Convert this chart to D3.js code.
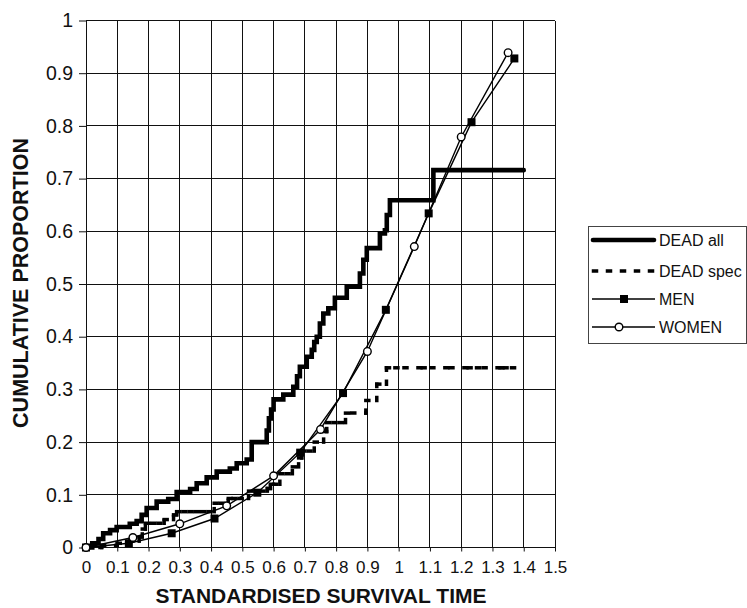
<!DOCTYPE html>
<html>
<head>
<meta charset="utf-8">
<script src="https://cdn.jsdelivr.net/npm/d3@7"></script>
<style>
  body { margin: 0; background: #fff; }
  svg { display: block; font-family: 'Liberation Sans', Arial, sans-serif; }
</style>
</head>
<body>
<svg width="747" height="608"></svg>
<script>
    // DEAD all: step curve, value changes to deadAllY[i] at deadAllX[i]
    var deadAllX = [0, 0.02, 0.04, 0.055, 0.077, 0.098, 0.14, 0.162, 0.178, 0.194, 0.226, 0.263, 0.29, 0.333, 0.354, 0.386,
      0.418, 0.46, 0.482, 0.514, 0.53, 0.578, 0.585, 0.592, 0.6, 0.631, 0.663, 0.675, 0.684, 0.706, 0.722,
      0.73, 0.738, 0.748, 0.759, 0.775, 0.796, 0.834, 0.876, 0.887, 0.898, 0.94, 0.956, 0.962, 0.972, 1.111, 1.40]
    var deadAllY = [0, 0.008, 0.016, 0.027, 0.033, 0.039, 0.045, 0.05, 0.062, 0.075, 0.087, 0.092, 0.105, 0.111, 0.122, 0.133,
      0.144, 0.15, 0.16, 0.167, 0.2, 0.222, 0.245, 0.262, 0.281, 0.29, 0.305, 0.325, 0.343, 0.362, 0.375,
      0.39, 0.4, 0.425, 0.444, 0.454, 0.474, 0.495, 0.52, 0.546, 0.568, 0.596, 0.602, 0.631, 0.659, 0.716, 0.716]

    // DEAD spec: same idea, repeated values are censored times (each gap is its own dashed piece)
    var deadSpecX = [0, 0.05, 0.1, 0.14, 0.17, 0.18, 0.19, 0.21, 0.23, 0.25, 0.28, 0.29, 0.31, 0.33, 0.35, 0.37, 0.39,
      0.41, 0.43, 0.455, 0.47, 0.49, 0.52, 0.54, 0.56, 0.58, 0.59, 0.6, 0.62, 0.64, 0.66, 0.68, 0.69, 0.71,
      0.73, 0.76, 0.77, 0.79, 0.81, 0.83, 0.85, 0.895, 0.93, 0.961, 0.988, 1.017, 1.075, 1.103, 1.164,
      1.222, 1.249, 1.27, 1.324, 1.337, 1.361, 1.38]
    var deadSpecY = [0, 0.004, 0.008, 0.012, 0.02, 0.035, 0.046, 0.046, 0.046, 0.053, 0.062, 0.068, 0.068, 0.068, 0.068, 0.068, 0.068,
      0.084, 0.084, 0.093, 0.093, 0.093, 0.107, 0.107, 0.107, 0.112, 0.12, 0.12, 0.14, 0.14, 0.153, 0.17, 0.183, 0.183,
      0.2, 0.22, 0.237, 0.237, 0.237, 0.255, 0.255, 0.279, 0.31, 0.341, 0.341, 0.341, 0.341, 0.341, 0.341,
      0.341, 0.341, 0.341, 0.341, 0.341, 0.341, 0.341]

    var menX = [0, 0.137, 0.274, 0.411, 0.548, 0.685, 0.822, 0.959, 1.096, 1.233, 1.37]
    var menY = [0, 0.008, 0.027, 0.055, 0.104, 0.18, 0.293, 0.451, 0.634, 0.807, 0.928]

    var womenX = [0, 0.15, 0.3, 0.45, 0.6, 0.75, 0.9, 1.05, 1.2, 1.35]
    var womenY = [0, 0.019, 0.045, 0.079, 0.136, 0.224, 0.372, 0.571, 0.779, 0.939]

    var xTicks = [0, 0.1, 0.2, 0.3, 0.4, 0.5, 0.6, 0.7, 0.8, 0.9, 1, 1.1, 1.2, 1.3, 1.4, 1.5]
    var yTicks = [0, 0.1, 0.2, 0.3, 0.4, 0.5, 0.6, 0.7, 0.8, 0.9, 1]

    var legendNames = ['DEAD all', 'DEAD spec', 'MEN', 'WOMEN']

    var width = 747
    var height = 608
    var margin = { top: 20.5, right: 192, bottom: 60.5, left: 86 }

    var xScale = d3.scaleLinear()
      .domain([0, 1.5])
      .range([margin.left, width - margin.right])

    var yScale = d3.scaleLinear()
      .domain([0, 1])
      .range([height - margin.bottom, margin.top])

    var zip = (xs, ys) => xs.map((x, i) => ({ x: x, y: ys[i] }))

    var svg = d3.select('svg')

    // grid (the outer lines are the frame)
    var grid = svg.append('g').attr('stroke', '#111').attr('stroke-width', 1).attr('shape-rendering', 'crispEdges')
    grid.selectAll('.vx').data(xTicks).enter().append('line')
      .attr('x1', d => xScale(d)).attr('x2', d => xScale(d))
      .attr('y1', yScale(0)).attr('y2', yScale(1))
    grid.selectAll('.hy').data(yTicks).enter().append('line')
      .attr('x1', xScale(0)).attr('x2', xScale(1.5))
      .attr('y1', d => yScale(d)).attr('y2', d => yScale(d))

    var xAxis = d3.axisBottom(xScale).tickValues(xTicks).tickSize(4).tickSizeOuter(0).tickPadding(9).tickFormat(d => String(d))
    var yAxis = d3.axisLeft(yScale).tickValues(yTicks).tickSize(7).tickSizeOuter(0).tickPadding(6).tickFormat(d => String(d))

    var gx = svg.append('g')
      .attr('transform', 'translate(' + [0, yScale(0)] + ')')
      .call(xAxis)
    gx.selectAll('text').attr('font-size', 17).attr('fill', '#111')
    gx.selectAll('line, path').attr('stroke', '#111')

    var gy = svg.append('g')
      .attr('transform', 'translate(' + [xScale(0), 0] + ')')
      .call(yAxis)
    gy.selectAll('text').attr('font-size', 19.5).attr('fill', '#111')
    gy.selectAll('line, path').attr('stroke', '#111')
    gx.select('.domain').remove()
    gy.select('.domain').remove()

    // axis titles
    svg.append('text')
      .attr('x', 321).attr('y', 603)
      .attr('text-anchor', 'middle')
      .attr('font-weight', 'bold').attr('font-size', 21)
      .attr('fill', '#111')
      .text('STANDARDISED SURVIVAL TIME')

    svg.append('text')
      .attr('transform', 'translate(28,283) rotate(-90)')
      .attr('text-anchor', 'middle')
      .attr('font-weight', 'bold').attr('font-size', 21.5)
      .attr('fill', '#111')
      .text('CUMULATIVE PROPORTION')

    var stepLine = d3.line()
      .curve(d3.curveStepAfter)
      .x(d => xScale(d.x))
      .y(d => yScale(d.y))

    var straight = d3.line()
      .x(d => xScale(d.x))
      .y(d => yScale(d.y))

    // DEAD all
    svg.append('path')
      .datum(zip(deadAllX, deadAllY))
      .attr('d', stepLine)
      .attr('fill', 'none')
      .attr('stroke', '#000')
      .attr('stroke-width', 4.6)
      .attr('stroke-linecap', 'round')
      .attr('stroke-linejoin', 'miter')

    // DEAD spec: every horizontal / vertical piece starts its own dash, like the original
    var spec = zip(deadSpecX, deadSpecY)
    var specSegs = []
    for (var i = 0; i < spec.length - 1; i++) {
      specSegs.push([spec[i].x, spec[i].y, spec[i + 1].x, spec[i].y])
      if (spec[i + 1].y !== spec[i].y) specSegs.push([spec[i + 1].x, spec[i].y, spec[i + 1].x, spec[i + 1].y])
    }
    svg.append('g').selectAll('line')
      .data(specSegs)
      .enter().append('line')
      .attr('x1', d => xScale(d[0])).attr('y1', d => yScale(d[1]))
      .attr('x2', d => xScale(d[2])).attr('y2', d => yScale(d[3]))
      .attr('stroke', '#000')
      .attr('stroke-width', 3.5)
      .attr('stroke-linecap', 'square')
      .attr('stroke-dasharray', '3,11')

    // MEN
    var men = zip(menX, menY)
    svg.append('path')
      .datum(men)
      .attr('d', straight)
      .attr('fill', 'none')
      .attr('stroke', '#000')
      .attr('stroke-width', 1.4)
    svg.selectAll('.men')
      .data(men)
      .enter().append('rect')
      .attr('class', 'men')
      .attr('x', d => xScale(d.x) - 4)
      .attr('y', d => yScale(d.y) - 4)
      .attr('width', 8)
      .attr('height', 8)
      .attr('fill', '#000')

    // WOMEN
    var women = zip(womenX, womenY)
    svg.append('path')
      .datum(women)
      .attr('d', straight)
      .attr('fill', 'none')
      .attr('stroke', '#000')
      .attr('stroke-width', 1.4)
    svg.selectAll('.women')
      .data(women)
      .enter().append('circle')
      .attr('class', 'women')
      .attr('cx', d => xScale(d.x))
      .attr('cy', d => yScale(d.y))
      .attr('r', 3.8)
      .attr('fill', '#fff')
      .attr('stroke', '#000')
      .attr('stroke-width', 1.4)

    // legend
    var legend = svg.append('g').attr('transform', 'translate(588,226)')
    legend.append('rect')
      .attr('x', 0.5).attr('y', 0.5)
      .attr('width', 158).attr('height', 117)
      .attr('fill', '#fff')
      .attr('stroke', '#444')
      .attr('stroke-width', 1)

    var rowY = [14, 45, 73, 101]
    var rows = legend.selectAll('.row')
      .data(legendNames)
      .enter().append('g')
      .attr('class', 'row')
      .attr('transform', (d, i) => 'translate(0,' + rowY[i] + ')')

    rows.append('text')
      .attr('x', 71)
      .attr('dy', '0.36em')
      .attr('font-size', 16)
      .attr('fill', '#111')
      .text(d => d)

    rows.filter((d, i) => i === 0).append('line')
      .attr('x1', 5).attr('x2', 66)
      .attr('stroke', '#000').attr('stroke-width', 4.6).attr('stroke-linecap', 'round')

    rows.filter((d, i) => i === 1).append('line')
      .attr('x1', 5.5).attr('x2', 67)
      .attr('stroke', '#000').attr('stroke-width', 3.5)
      .attr('stroke-linecap', 'square').attr('stroke-dasharray', '3,11')

    var menRow = rows.filter((d, i) => i === 2)
    menRow.append('line').attr('x1', 4).attr('x2', 67).attr('stroke', '#000').attr('stroke-width', 1.4)
    menRow.append('rect').attr('x', 32).attr('y', -4).attr('width', 8).attr('height', 8).attr('fill', '#000')

    var womenRow = rows.filter((d, i) => i === 3)
    womenRow.append('line').attr('x1', 4).attr('x2', 67).attr('stroke', '#000').attr('stroke-width', 1.4)
    womenRow.append('circle').attr('cx', 31).attr('r', 3.8).attr('fill', '#fff').attr('stroke', '#000').attr('stroke-width', 1.4)
</script>
</body>
</html>
